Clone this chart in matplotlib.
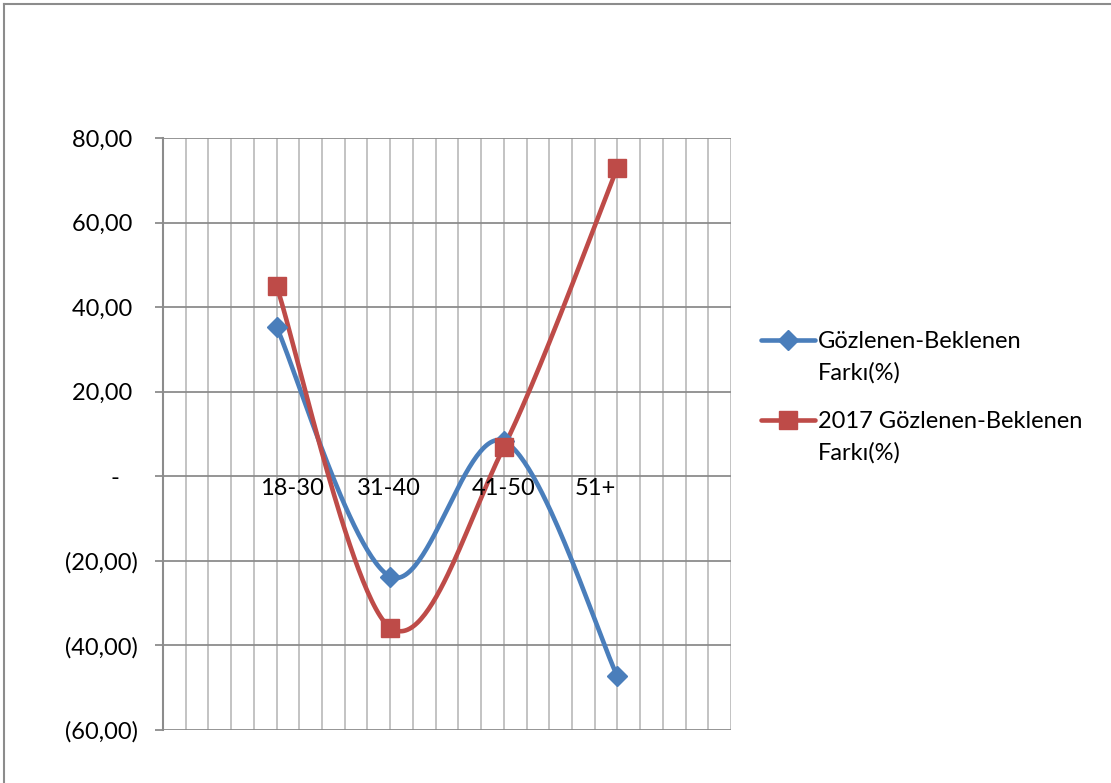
import numpy as np
import matplotlib
matplotlib.use("Agg")
import matplotlib.pyplot as plt
from matplotlib.lines import Line2D
from matplotlib.transforms import blended_transform_factory, ScaledTranslation

plt.rcParams['font.family'] = ['Lato', 'DejaVu Sans']

# Age groups and differences (%)
categories = ["18-30", "31-40", "41-50", "51+"]
observed_diff = [35.3, -23.7, 8.3, -47.3]
observed_diff_2017 = [45.0, -35.8, 6.9, 73.0]
series_names = [["Gözlenen-Beklenen", "Farkı(%)"], ["2017 Gözlenen-Beklenen", "Farkı(%)"]]
y_ticks = [80, 60, 40, 20, 0, -20, -40, -60]

BLUE = "#4A7EBB"
RED = "#BE4B48"
FS = 17
W, H = 1111, 783


def fmt_tick(v):
    # accounting style: negatives in parentheses, zero as a dash
    if v == 0:
        return "-   "
    s = f"{abs(v):.2f}".replace(".", ",")
    return f"({s})" if v < 0 else s + " "


def smooth(xs, ys, n=60):
    """Bezier smoothing through every point (Catmull-Rom style control points)."""
    pts = np.column_stack([xs, ys]).astype(float)
    out = []
    for i in range(len(pts) - 1):
        p0 = pts[i - 1] if i > 0 else pts[i]
        p1 = pts[i]
        p2 = pts[i + 1]
        p3 = pts[i + 2] if i + 2 < len(pts) else pts[i + 1]
        c1 = p1 + (p2 - p0) / 6.0
        c2 = p2 - (p3 - p1) / 6.0
        t = np.linspace(0, 1, n)[:, None]
        seg = ((1 - t) ** 3) * p1 + 3 * ((1 - t) ** 2) * t * c1 + 3 * (1 - t) * t ** 2 * c2 + t ** 3 * p2
        out.append(seg if i == 0 else seg[1:])
    seg = np.vstack(out)
    return seg[:, 0], seg[:, 1]


def fx(px):
    return px / W


def fy(py):
    return 1 - py / H


fig = plt.figure(figsize=(W / 100, H / 100), dpi=100)
ax = fig.add_axes([fx(163), fy(730), (731 - 163) / W, (730 - 138) / H])

# category positions on a 25-step grid
x_pos = [5 * (i + 1) for i in range(len(categories))]
ax.set_xlim(0, 25)
ax.set_ylim(-60, 80)

# grid
for gx in range(1, 26):
    ax.axvline(gx, color="#BEBEBE", lw=1.3, zorder=1)
for gy in y_ticks:
    ax.axhline(gy, color="#8C8C8C", lw=1.3, zorder=1)

for spine in ["top", "right", "bottom"]:
    ax.spines[spine].set_visible(False)
ax.spines["left"].set_color("#8C8C8C")
ax.spines["left"].set_linewidth(1.5)

ax.set_yticks(y_ticks)
ax.set_yticklabels([fmt_tick(v) for v in y_ticks], fontsize=FS)
ax.tick_params(axis="y", length=6, width=1.3, color="#8C8C8C", pad=12)
ax.set_xticks([])

# series
styles = [(BLUE, "D", 10), (RED, "s", 13)]
for vals, (color, marker, ms) in zip([observed_diff, observed_diff_2017], styles):
    sx, sy = smooth(x_pos, vals)
    ax.plot(sx, sy, color=color, lw=3.3, zorder=3, solid_capstyle="round")
    ax.plot(x_pos, vals, linestyle="none", marker=marker, ms=ms, color=color, zorder=4)

# category labels sitting under the zero line
label_shift_px = [15, -1, 0, -22]
trans = blended_transform_factory(ax.transData, ax.transData)
for xp, lab, sh in zip(x_pos, categories, label_shift_px):
    ax.text(xp, 0, lab, transform=trans + ScaledTranslation(sh / 100, -2 / 100, fig.dpi_scale_trans),
            ha="center", va="top", fontsize=FS, zorder=5)

# legend: sample line with marker, label aligned to the first text line
legend_rows = [340, 420]
for row_y, names, (color, marker, ms) in zip(legend_rows, series_names, styles):
    fig.add_artist(Line2D([fx(761), fx(815)], [fy(row_y)] * 2, color=color, lw=3.3,
                          solid_capstyle="round"))
    fig.add_artist(Line2D([fx(788)], [fy(row_y)], color=color, marker=marker, ms=ms,
                          linestyle="none"))
    for k, line in enumerate(names):
        fig.text(fx(818), fy(row_y + 8 + 32 * k), line, fontsize=FS, ha="left", va="baseline")

# chart area border
fig.add_artist(Line2D([fx(4), fx(4)], [0, fy(4)], color="#8C8C8C", lw=1.5))
fig.add_artist(Line2D([fx(4), 1], [fy(4), fy(4)], color="#8C8C8C", lw=1.5))

fig.savefig("out.png", dpi=100)
